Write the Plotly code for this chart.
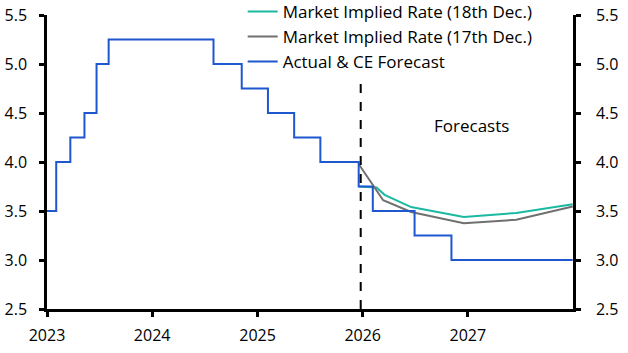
import plotly.graph_objects as go

# Actual & CE forecast (Bank Rate, step series)
actual_dates = ["2023-01-01", "2023-02-02", "2023-03-23", "2023-05-11", "2023-06-22",
                "2023-08-03", "2024-08-01", "2024-11-07", "2025-02-06", "2025-05-08",
                "2025-08-07", "2025-12-18", "2026-02-05", "2026-06-30", "2026-11-05",
                "2027-12-31"]
actual_vals = [3.5, 4.0, 4.25, 4.5, 5.0, 5.25, 5.0, 4.75, 4.5, 4.25, 4.0, 3.75, 3.5, 3.25, 3.0, 3.0]

# Market implied rate (18th Dec.)
mkt18_dates = ["2025-12-18", "2026-02-18", "2026-03-18", "2026-06-18", "2026-12-18",
               "2027-06-18", "2027-12-31"]
mkt18_vals = [3.75, 3.74, 3.665, 3.54, 3.44, 3.48, 3.57]

# Market implied rate (17th Dec.)
mkt17_dates = ["2025-12-18", "2026-03-13", "2026-06-18", "2026-12-18", "2027-06-18", "2027-12-31"]
mkt17_vals = [3.98, 3.61, 3.49, 3.375, 3.41, 3.545]

x_ticks = ["2023-01-01", "2024-01-01", "2025-01-01", "2026-01-01", "2027-01-01"]
x_labels = ["2023", "2024", "2025", "2026", "2027"]
y_ticks = [2.5, 3.0, 3.5, 4.0, 4.5, 5.0, 5.5]

FONT = "Open Sans"

fig = go.Figure()
fig.add_trace(go.Scatter(x=mkt18_dates, y=mkt18_vals, mode="lines",
                         name="Market Implied Rate (18th Dec.)",
                         line=dict(color="#1ab9a2", width=2)))
fig.add_trace(go.Scatter(x=mkt17_dates, y=mkt17_vals, mode="lines",
                         name="Market Implied Rate (17th Dec.)",
                         line=dict(color="#707070", width=2)))
fig.add_trace(go.Scatter(x=actual_dates, y=actual_vals, mode="lines",
                         name="Actual & CE Forecast", line_shape="hv",
                         line=dict(color="#1f57cf", width=2)))
# invisible trace to anchor right axis
fig.add_trace(go.Scatter(x=[actual_dates[0]], y=[3.0], yaxis="y2", mode="markers",
                         marker=dict(opacity=0), showlegend=False, hoverinfo="skip"))

fig.add_shape(type="line", x0="2025-12-25", x1="2025-12-25", y0=2.5, y1=4.86,
              xref="x", yref="y", line=dict(color="black", width=2, dash="dash"))

fig.add_annotation(x="2027-01-12", y=4.37, xref="x", yref="y", text="Forecasts",
                   showarrow=False, font=dict(family=FONT, size=17, color="black"))

axis_common = dict(showline=True, linecolor="black", linewidth=2.5, ticks="outside",
                   tickcolor="black", tickwidth=2.5, ticklen=5, showgrid=False, zeroline=False,
                   tickfont=dict(family=FONT, size=16, color="black"))

fig.update_layout(
    width=628, height=353,
    margin=dict(l=47, r=55, t=15, b=44, autoexpand=False),
    paper_bgcolor="white", plot_bgcolor="white",
    showlegend=True,
    legend=dict(x=0.372, y=1.072, xref="paper", yref="paper", xanchor="left", yanchor="top",
                bgcolor="rgba(0,0,0,0)", font=dict(family=FONT, size=17, color="black"),
                tracegroupgap=0),
    xaxis=dict(type="date", range=["2023-01-01", "2028-01-01"], tickvals=x_ticks,
               ticktext=x_labels, ticklabelstandoff=5, **axis_common),
    yaxis=dict(range=[2.5, 5.5], tickvals=y_ticks, tickformat=".1f",
               ticklabelstandoff=9, **axis_common),
    yaxis2=dict(range=[2.5, 5.5], tickvals=y_ticks, tickformat=".1f", overlaying="y",
                side="right", ticklabelstandoff=12, **axis_common),
)

fig.write_html("out.html")
